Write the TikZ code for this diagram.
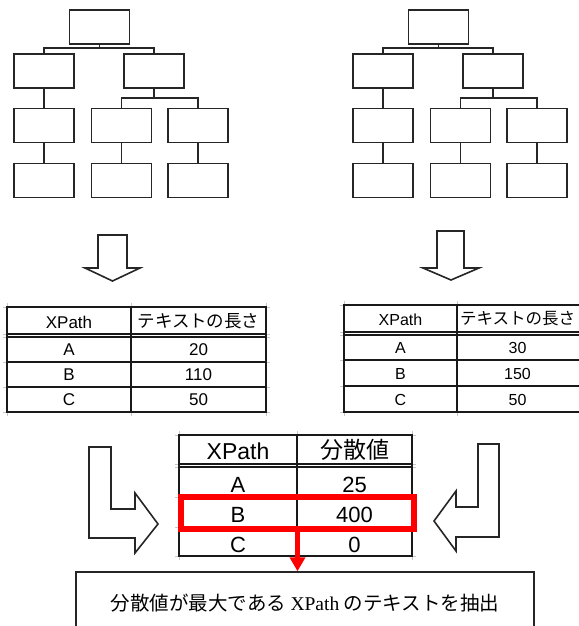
\documentclass[tikz,border=0pt]{standalone}
\usepackage{fontspec}
\setmainfont{Liberation Serif}
\newfontfamily\jpfont{Noto Sans CJK JP}
\newfontfamily\tabfont{Liberation Sans}
\usetikzlibrary{arrows.meta}
\tikzset{
  treebox/.style={draw=black!85, line width=1.6pt, minimum width=60pt, minimum height=34pt, inner sep=0pt, outer sep=0pt},
  treeline/.style={draw=black!85, line width=1.6pt},
  hollow/.style={draw=black!85, line width=1.6pt, fill=white, line join=miter},
  gridline/.style={draw=black!22, line width=0.6pt},
  rule/.style={draw=black!90, line width=1.3pt},
  cell/.style={inner sep=0pt},
}
\begin{document}
\begin{tikzpicture}[x=1pt,y=-1pt]
  \useasboundingbox (0,0) rectangle (578,626);
  \foreach \t/\dx in {l/0,r/339}{
    \begin{scope}[xshift=\dx pt]
      \node[treebox] (\t-root) at (99.5,27) {};
      \node[treebox] (\t-a) at (44,71) {};
      \node[treebox] (\t-b) at (154,71) {};
      \node[treebox] (\t-a1) at (44,125.5) {};
      \node[treebox] (\t-b1) at (121.5,125.5) {};
      \node[treebox] (\t-b2) at (198,125.5) {};
      \node[treebox] (\t-a2) at (44,180.5) {};
      \node[treebox] (\t-b3) at (121.5,180.5) {};
      \node[treebox] (\t-b4) at (198,180.5) {};
      \draw[treeline] (\t-root.south) -- ++(0,4) -| (\t-a.north);
      \draw[treeline] (\t-root.south) -- ++(0,4) -| (\t-b.north);
      \draw[treeline] (\t-b.south) -- ++(0,10) -| (\t-b1.north);
      \draw[treeline] (\t-b.south) -- ++(0,10) -| (\t-b2.north);
      \draw[treeline] (\t-a.south) -- (\t-a1.north);
      \draw[treeline] (\t-a1.south) -- (\t-a2.north);
      \draw[treeline] (\t-b1.south) -- (\t-b3.north);
      \draw[treeline] (\t-b2.south) -- (\t-b4.north);
    \end{scope}
  }

  \draw[hollow] (98,235) -- (127,235) -- (127,268) -- (140,268) -- (112.5,281)
    -- (85,268) -- (98,268) -- cycle;
  \draw[hollow] (437,231) -- (464,231) -- (464,268) -- (479,268) -- (451,280)
    -- (423,268) -- (437,268) -- cycle;

  % left table
  \foreach \yy in {307,334,337,362,387,412} \draw[gridline] (3,\yy) -- (270,\yy);
  \foreach \xx in {7,131,266} \draw[gridline] (\xx,303) -- (\xx,416);
  \draw[rule] (7,307) rectangle (266,412) (131,307) -- (131,412);
  \foreach \yy in {334,337,362,387} \draw[rule] (7,\yy) -- (266,\yy);
  \node[cell, font=\tabfont\fontsize{17}{17}\selectfont] (lt-h1) at (69,322) {XPath};
  \node[cell, font=\jpfont\fontsize{17.5}{17.5}\selectfont] (lt-h2) at (198.5,321) {テキストの長さ};
  \foreach \k/\v/\yy in {A/20/350,B/110/375,C/50/400}{
    \node[cell, font=\tabfont\fontsize{17}{17}\selectfont] (lt-\k) at (69,\yy) {\k};
    \node[cell, font=\tabfont\fontsize{17}{17}\selectfont] (lt-\k v) at (198.5,\yy) {\v};
  }

  % right table
  \foreach \yy in {305,332,335,360,386,412} \draw[gridline] (340,\yy) -- (582,\yy);
  \foreach \xx in {344,457} \draw[gridline] (\xx,301) -- (\xx,416);
  \draw[rule] (582,305) -- (344,305) -- (344,412) -- (582,412) (457,305) -- (457,412);
  \foreach \yy in {332,335,360,386} \draw[rule] (344,\yy) -- (582,\yy);
  \node[cell, font=\tabfont\fontsize{16}{16}\selectfont] (rt-h1) at (400.5,319.5) {XPath};
  \node[cell, font=\jpfont\fontsize{16.5}{16.5}\selectfont] (rt-h2) at (517.5,318.5) {テキストの長さ};
  \foreach \k/\v/\yy in {A/30/348,B/150/373.5,C/50/399.5}{
    \node[cell, font=\tabfont\fontsize{16}{16}\selectfont] (rt-\k) at (400.5,\yy) {\k};
    \node[cell, font=\tabfont\fontsize{16}{16}\selectfont] (rt-\k v) at (517.5,\yy) {\v};
  }

  % variance table
  \foreach \yy in {435,464,467,497,527,556} \draw[gridline] (175,\yy) -- (416,\yy);
  \foreach \xx in {179,297,412} \draw[gridline] (\xx,431) -- (\xx,560);
  \draw[rule] (179,435) rectangle (412,556) (297,435) -- (297,556);
  \foreach \yy in {464,467,497,527} \draw[rule] (179,\yy) -- (412,\yy);
  \node[cell, font=\tabfont\fontsize{23}{23}\selectfont] (vt-h1) at (238,451.5) {XPath};
  \node[cell, font=\jpfont\fontsize{23}{23}\selectfont] (vt-h2) at (354.5,450) {分散値};
  \foreach \k/\v/\yy in {A/25/485,B/400/515,C/0/544.5}{
    \node[cell, font=\tabfont\fontsize{22}{22}\selectfont] (vt-\k) at (238,\yy) {\k};
    \node[cell, font=\tabfont\fontsize{22}{22}\selectfont] (vt-\k v) at (354.5,\yy) {\v};
  }

  \draw[hollow] (89,447) -- (111,447) -- (111,509) -- (135,509) -- (135,493)
    -- (158,524) -- (135,553) -- (135,538) -- (89,538) -- cycle;
  \draw[hollow] (499,444) -- (478,444) -- (478,507) -- (456,507) -- (456,491)
    -- (434,521) -- (456,551) -- (456,537) -- (499,537) -- cycle;

  \node[draw=red, line width=6pt, minimum width=233pt, minimum height=32pt, inner sep=0pt] (best) at (297.5,513) {};
  \node[draw=black!85, line width=1.4pt, minimum width=458pt, minimum height=62pt, inner sep=0pt,
    font=\jpfont\fontsize{19.5}{19.5}\selectfont] (result) at (305,603)
    {分散値が最大である {\rmfamily XPath} のテキストを抽出};
  \draw[red, line width=4.5pt, -{Triangle[width=15pt,length=14pt]}] (best.south) -- (result.north -| best.south);
\end{tikzpicture}
\end{document}
